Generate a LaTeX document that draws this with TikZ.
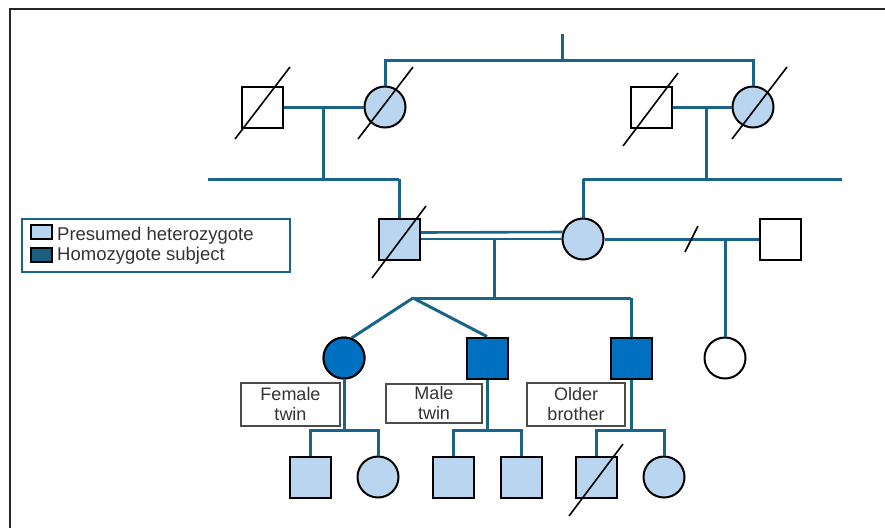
\documentclass[tikz,border=0pt]{standalone}
\usepackage{fontspec}
\setmainfont{Liberation Sans}
\definecolor{teal}{HTML}{1B6489}
\definecolor{lblue}{HTML}{B9D5F0}
\definecolor{dblue}{HTML}{0070C0}
\definecolor{legdark}{HTML}{1A5E80}
\definecolor{txt}{HTML}{333333}
\tikzset{
  rel/.style={draw=teal, line width=3pt},
  male/.style={rectangle, draw=black, line width=2pt, minimum size=41pt, inner sep=0pt},
  female/.style={circle, draw=black, line width=2pt, minimum size=41pt, inner sep=0pt},
  het/.style={fill=lblue},
  hom/.style={fill=dblue},
  dead/.style={draw=black, line width=1.6pt},
  lab/.style={rectangle, draw=black!70, line width=1.2pt, fill=white, text=txt, font=\fontsize{18pt}{20pt}\selectfont, align=center, inner sep=0pt},
  legtext/.style={anchor=west, text=txt, font=\fontsize{18.5pt}{20pt}\selectfont, inner sep=0pt}
}
\begin{document}
\begin{tikzpicture}[x=1pt,y=-1pt]
\useasboundingbox (0,0) rectangle (885,528);
% frame
\draw[line width=2pt, black!85] (10,528) -- (10,9) -- (885,9);

% generation I
\node[male] (s1) at (262.5,107) {};
\node[female, het] (c1) at (385,107) {};
\node[male] (s2) at (651,107) {};
\node[female, het] (c2) at (753,107) {};
\coordinate (topL) at (385,60);
\coordinate (topR) at (753,60);
\coordinate (stub) at (562,34);
\coordinate (stubB) at (562,60);
\draw[rel] (c1.north) -- (topL) -- (topR) -- (c2.north);
\draw[rel] (stub) -- (stubB);
\coordinate (m1) at (323,107);
\coordinate (m1b) at (323,179);
\coordinate (sib1L) at (208,179);
\coordinate (sib1R) at (399,179);
\draw[rel] (s1) -- (c1);
\draw[rel] (m1) -- (m1b);
\draw[rel] (sib1L) -- (sib1R);
\coordinate (m2) at (706,107);
\coordinate (m2b) at (706,179);
\coordinate (sib2L) at (583,179);
\coordinate (sib2R) at (842,179);
\draw[rel] (s2) -- (c2);
\draw[rel] (m2) -- (m2b);
\draw[rel] (sib2L) -- (sib2R);

% generation II
\node[male, het] (s3) at (399,239) {};
\node[female, het] (c3) at (583,239) {};
\node[male] (s4) at (780,239) {};
\draw[rel] (sib1R) -- (s3.north);
\draw[rel] (sib2L) -- (c3.north);
\draw[teal, line width=2.6pt] ([yshift=6.5pt]s3.east) -- (c3.161.5);
\draw[teal, line width=2.6pt] (s3.east) -- (c3.west);
\draw[rel] (c3) -- (s4);
\coordinate (brA) at (685,252);
\coordinate (brB) at (698,226);
\draw[dead] (brA) -- (brB);
\coordinate (m3) at (494,239);
\coordinate (m3b) at (494,298);
\coordinate (apex) at (413,298);
\coordinate (sib3R) at (631,298);
\draw[rel] (m3) -- (m3b);
\draw[rel] (apex) -- (sib3R);
\coordinate (m4) at (725,239);

% generation III
\node[female, hom] (c6) at (344,358) {};
\node[male, hom] (s7) at (487,358) {};
\node[male, hom] (s8) at (631,358) {};
\node[female] (c5) at (725,358) {};
\draw[rel] (apex) -- (c6.69);
\draw[rel] (apex) -- (s7.north);
\draw[rel] (sib3R) -- (s8.north);
\draw[rel] (m4) -- (c5.north);
\node[female, hom] at (c6) {};
\node[male, hom] at (s7) {};
\node[male, hom] at (s8) {};

% descent lines to generation IV
\coordinate (d1) at (344,430);
\coordinate (d1L) at (310,430);
\coordinate (d1R) at (378,430);
\coordinate (d2) at (487,430);
\coordinate (d2L) at (453,430);
\coordinate (d2R) at (521,430);
\coordinate (d3) at (631,430);
\coordinate (d3L) at (596,430);
\coordinate (d3R) at (664,430);
\draw[rel] (c6.south) -- (d1);
\draw[rel] (s7.south) -- (d2);
\draw[rel] (s8.south) -- (d3);

% labels
\node[lab, minimum width=99pt, minimum height=43pt] (lf) at (290.5,404.5) {Female\\twin};
\node[lab, minimum width=96pt, minimum height=39pt] (lm) at (434,403.5) {Male\\twin};
\node[lab, minimum width=98pt, minimum height=43pt] (lo) at (576,404.5) {Older\\brother};

% generation IV
\node[male, het] (g1) at (310,477) {};
\node[female, het] (g2) at (378,477) {};
\node[male, het] (g3) at (453,477) {};
\node[male, het] (g4) at (521,477) {};
\node[male, het] (g5) at (596,477) {};
\node[female, het] (g6) at (664,477) {};
\draw[rel] (g1.north) -- (d1L) -- (d1R) -- (g2.north);
\draw[rel] (g3.north) -- (d2L) -- (d2R) -- (g4.north);
\draw[rel] (g5.north) -- (d3L) -- (d3R) -- (g6.north);

% deceased slashes
\draw[dead] ([shift={(-27.5,32)}]s1.center) -- ([shift={(27.5,-40)}]s1.center);
\draw[dead] ([shift={(-27,32)}]c1.center) -- ([shift={(28,-40)}]c1.center);
\draw[dead] ([shift={(-28,39)}]s2.center) -- ([shift={(27,-34)}]s2.center);
\draw[dead] ([shift={(-21,32)}]c2.center) -- ([shift={(34,-40)}]c2.center);
\draw[dead] ([shift={(-27,39)}]s3.center) -- ([shift={(27,-33)}]s3.center);
\draw[dead] ([shift={(-27,39)}]g5.center) -- ([shift={(27,-33)}]g5.center);

% legend
\node[rectangle, draw=teal, line width=1.6pt, minimum width=268pt, minimum height=53pt, inner sep=0pt] (leg) at (156,245.5) {};
\node[rectangle, draw=black, line width=1.4pt, fill=lblue, minimum width=21pt, minimum height=14pt, inner sep=0pt] (sw1) at (41.5,232) {};
\node[rectangle, draw=black, line width=1.4pt, fill=legdark, minimum width=21pt, minimum height=14pt, inner sep=0pt] (sw2) at (41.5,255) {};
\node[legtext] (t1) at (57,235.5) {Presumed heterozygote};
\node[legtext] (t2) at (57,255.5) {Homozygote subject};
\end{tikzpicture}
\end{document}
